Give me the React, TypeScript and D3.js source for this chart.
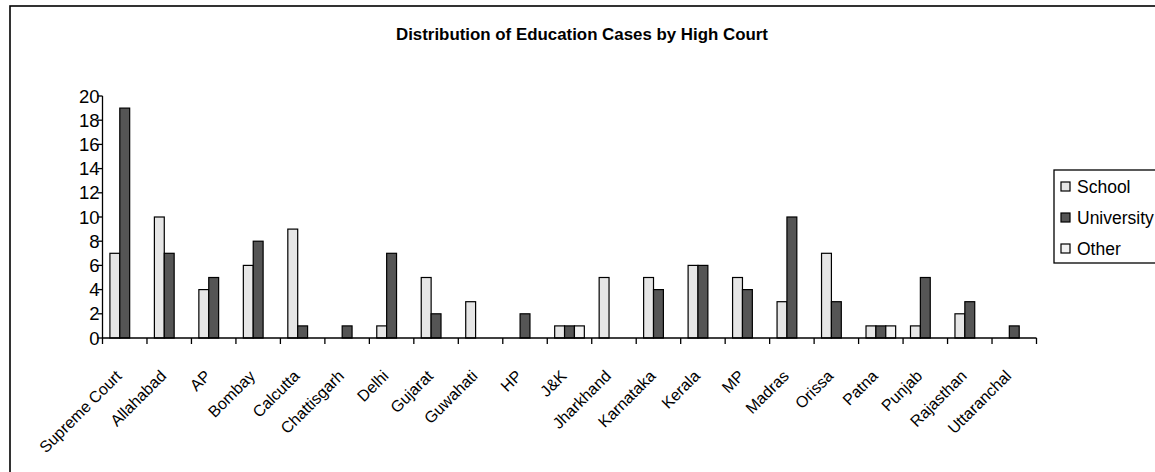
import React from "react";
import * as d3 from "d3";

const courts = [
  "Supreme Court", "Allahabad", "AP", "Bombay", "Calcutta", "Chattisgarh", "Delhi",
  "Gujarat", "Guwahati", "HP", "J&K", "Jharkhand", "Karnataka", "Kerala", "MP",
  "Madras", "Orissa", "Patna", "Punjab", "Rajasthan", "Uttaranchal",
];
const school = [7, 10, 4, 6, 9, 0, 1, 5, 3, 0, 1, 5, 5, 6, 5, 3, 7, 1, 1, 2, 0];
const university = [19, 7, 5, 8, 1, 1, 7, 2, 0, 2, 1, 0, 4, 6, 4, 10, 3, 1, 5, 3, 1];
const other = [0, 0, 0, 0, 0, 0, 0, 0, 0, 0, 1, 0, 0, 0, 0, 0, 0, 1, 0, 0, 0];
const seriesNames = ["School", "University", "Other"];
const seriesColors = ["#e6e6e6", "#555555", "#f2f2f2"];
const yTicks = [0, 2, 4, 6, 8, 10, 12, 14, 16, 18, 20];

const W = 1155;
const H = 472;
const font = "'Liberation Sans', Arial, sans-serif";

export default function App() {
  const plotLeft = 102.5;
  const plotRight = 1036.5;
  const plotTop = 96;
  const plotBottom = 338;

  const x = d3.scaleBand<string>().domain(courts).range([plotLeft, plotRight]).padding(0);
  const sub = d3
    .scaleBand<string>()
    .domain(seriesNames)
    .range([0, x.bandwidth()])
    .paddingInner(0)
    .paddingOuter(0.75);
  const y = d3.scaleLinear().domain([0, 20]).range([plotBottom, plotTop]);

  const series = [school, university, other];
  const tickXs = d3.range(courts.length + 1).map((i) => plotLeft + i * x.step());

  return (
    <svg
      width={W}
      height={H}
      style={{ position: "absolute", left: 0, top: 0, background: "#fff" }}
      fontFamily={font}
    >
      {/* chart area frame */}
      <rect x={10} y={6} width={1200} height={520} fill="#fff" stroke="#000" strokeWidth={1.6} />

      <text
        x={582}
        y={40}
        textAnchor="middle"
        fontSize={17}
        fontWeight="bold"
        textLength={372}
        lengthAdjust="spacingAndGlyphs"
      >
        Distribution of Education Cases by High Court
      </text>

      {/* bars */}
      {series.map((vals, si) =>
        courts.map((c, ci) =>
          vals[ci] > 0 ? (
            <rect
              key={`${si}-${ci}`}
              x={(x(c) as number) + (sub(seriesNames[si]) as number)}
              y={y(vals[ci])}
              width={sub.bandwidth()}
              height={plotBottom - y(vals[ci])}
              fill={seriesColors[si]}
              stroke="#000"
              strokeWidth={1.2}
            />
          ) : null
        )
      )}

      {/* y axis */}
      <line x1={plotLeft} x2={plotLeft} y1={plotTop} y2={plotBottom} stroke="#000" strokeWidth={1.3} />
      {yTicks.map((t) => (
        <g key={t}>
          <line x1={plotLeft - 5} x2={plotLeft} y1={y(t)} y2={y(t)} stroke="#000" strokeWidth={1.3} />
          <text x={plotLeft - 3} y={y(t)} dy="0.36em" textAnchor="end" fontSize={18.5}>
            {t}
          </text>
        </g>
      ))}

      {/* x axis */}
      <line x1={plotLeft} x2={plotRight} y1={plotBottom} y2={plotBottom} stroke="#000" strokeWidth={1.3} />
      {tickXs.map((tx, i) => (
        <line key={i} x1={tx} x2={tx} y1={plotBottom} y2={plotBottom + 6} stroke="#000" strokeWidth={1.3} />
      ))}
      {courts.map((c) => {
        const cx = (x(c) as number) + x.bandwidth() / 2 - 2;
        const cy = 377;
        return (
          <text
            key={c}
            x={cx}
            y={cy}
            textAnchor="end"
            fontSize={16}
            transform={`rotate(-45 ${cx} ${cy})`}
          >
            {c}
          </text>
        );
      })}

      {/* legend */}
      <rect x={1054} y={170} width={140} height={93} fill="#fff" stroke="#000" strokeWidth={1.3} />
      {seriesNames.map((n, i) => {
        const ly = 182 + i * 31;
        return (
          <g key={n}>
            <rect x={1061} y={ly} width={9} height={9} fill={seriesColors[i]} stroke="#000" strokeWidth={1.2} />
            <text x={1077} y={ly + 4.5} dy="0.36em" fontSize={17.5}>
              {n}
            </text>
          </g>
        );
      })}
    </svg>
  );
}
